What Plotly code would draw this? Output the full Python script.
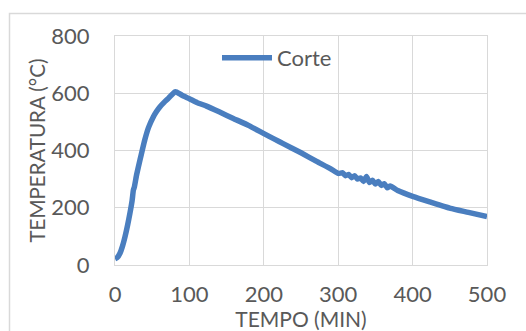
import plotly.graph_objects as go

# Temperature history of the "Corte" specimen
tempo_min = [0, 3, 6.7, 10, 13.5, 17, 20, 23, 24.7, 26, 29, 33.6, 37, 40, 45, 51.6, 56, 60.5, 66, 71.7, 76, 80.7, 83,
             90, 100, 110, 123, 140, 159, 180, 199.5, 215, 226, 250, 271, 290, 300, 306, 310, 314, 318, 322,
             326, 330, 334, 338, 342, 346, 350, 354, 358, 362, 366, 370, 380, 401, 425, 451, 475, 500]
temperatura = [22, 26, 41, 65, 99, 140, 180, 225, 262, 272, 315, 367, 405, 437, 480, 518, 537, 553, 568, 582, 594, 605, 604,
               593, 581, 568, 555, 535, 512, 487, 460, 439, 424, 392, 362, 336, 320, 322, 312, 316, 305, 312,
               300, 304, 292, 309, 288, 296, 283, 292, 278, 284, 270, 276, 260, 239, 219, 198, 184, 169]

x_ticks = [0, 100, 200, 300, 400, 500]
y_ticks = [0, 200, 400, 600, 800]

W, H = 526, 331
L, R, T, B = 115, 39, 36, 66
pw, ph = W - L - R, H - T - B

grey_text = "#595959"
grid = "#d9d9d9"
font_family = "Lato, 'Open Sans', sans-serif"

fig = go.Figure()
fig.add_trace(go.Scatter(
    x=tempo_min, y=temperatura, mode="lines", name="Corte",
    line=dict(color="#4a7ebf", width=5.5, shape="spline", smoothing=0.4),
))

fig.update_layout(
    width=W, height=H,
    margin=dict(l=L, r=R, t=T, b=B, autoexpand=False),
    paper_bgcolor="white", plot_bgcolor="white",
    font=dict(family=font_family, size=22, color=grey_text),
    showlegend=True,
    legend=dict(x=(217 - L) / pw, y=(265 - 37) / ph, xanchor="left", yanchor="top",
                bgcolor="rgba(0,0,0,0)", font=dict(size=22, color=grey_text),
                itemwidth=50),
    xaxis=dict(range=[0, 500], tickvals=x_ticks, showgrid=True, gridcolor=grid, gridwidth=1,
               zeroline=False, showline=True, linecolor=grid, linewidth=1, mirror=True,
               ticks="", ticklabelstandoff=10, automargin=False,
               title=dict(text="TEMPO (MIN)", standoff=7, font=dict(size=21, color=grey_text))),
    yaxis=dict(range=[0, 800], tickvals=y_ticks, showgrid=True, gridcolor=grid, gridwidth=1,
               zeroline=False, showline=True, linecolor=grid, linewidth=1, mirror=True,
               ticks="", ticklabelstandoff=20, automargin=False,
               title=dict(text="TEMPERATURA (°C)", standoff=0, font=dict(size=20.5, color=grey_text))),
    shapes=[dict(type="rect", xref="paper", yref="paper",
                 x0=(9.5 - L) / pw, x1=(560 - L) / pw,
                 y0=-(400 - T) / ph, y1=(H - B - 13.5) / ph,
                 line=dict(color=grid, width=1.5), fillcolor="rgba(0,0,0,0)", layer="below")],
)

fig.write_html("out.html")
